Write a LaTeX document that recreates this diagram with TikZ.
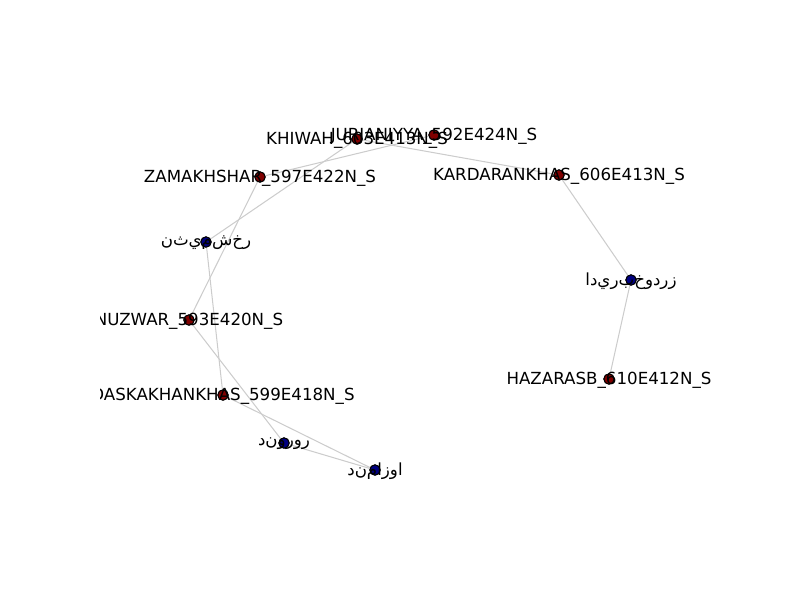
\documentclass[tikz,border=0pt]{standalone}
\usepackage{fontspec}
\setmainfont{DejaVu Sans}
\newfontfamily\arabicfont[Script=Arabic,RawFeature={-init;-medi;-fina;-rlig;-liga}]{DejaVu Sans}
\TeXXeTstate=1
\usepackage{xcolor}
\usepackage{tikz}
\definecolor{sitered}{RGB}{128,0,0}
\definecolor{namenavy}{RGB}{0,0,128}
\definecolor{edgegray}{RGB}{204,204,204}

\begin{document}
\begin{tikzpicture}[x=0.72pt,y=-0.72pt,
  sitept/.style={circle,draw=black,fill=sitered,inner sep=0pt,minimum size=7.4pt,line width=0.7pt},
  namept/.style={circle,draw=black,fill=namenavy,inner sep=0pt,minimum size=7.4pt,line width=0.7pt},
  lbl/.style={font=\fontsize{12}{14}\selectfont,inner sep=0pt,text=black,yshift=-0.7pt},
  edge/.style={edgegray,line width=0.75pt}]
\useasboundingbox(0,0)rectangle(800,600);
\begin{scope}
\clip(100,72)rectangle(720,534);

% points
\node[sitept](khiwah)at(357,139){};
\node[sitept](jurj)at(434,135){};
\node[sitept](zamak)at(260,177){};
\node[sitept](kard)at(559,175){};
\node[namept](rakh)at(206,242){};
\node[namept](zard)at(631,280){};
\node[sitept](nuzwar)at(189,320){};
\node[sitept](dask)at(223,395){};
\node[namept](rorw)at(284,443){};
\node[namept](awza)at(375,470){};
\node[sitept](hazar)at(609,379){};

% edges
\draw[edge](khiwah)--(rakh);
\draw[edge](jurj)--(zamak);
\draw[edge](khiwah)--(kard);
\draw[edge](zamak)--(nuzwar);
\draw[edge](rakh)--(dask);
\draw[edge](nuzwar)--(rorw);
\draw[edge](dask)--(awza);
\draw[edge](rorw)--(awza);
\draw[edge](kard)--(zard);
\draw[edge](zard)--(hazar);

% redraw points over the edges
\foreach\p/\s in{khiwah/sitept,jurj/sitept,zamak/sitept,kard/sitept,rakh/namept,zard/namept,nuzwar/sitept,dask/sitept,rorw/namept,awza/namept,hazar/sitept}
  \node[\s]at(\p){};

% labels
\node[lbl](khiwahT)at(khiwah){KHIWAH\_603E413N\_S};
\node[lbl](jurjT)at(jurj){JURJANIYYA\_592E424N\_S};
\node[lbl](zamakT)at(zamak){ZAMAKHSHAR\_597E422N\_S};
\node[lbl](kardT)at(kard){KARDARANKHAS\_606E413N\_S};
\node[lbl](rakhT)at(rakh){\arabicfont\beginR رخشميثن\endR};
\node[lbl](zardT)at(zard){\arabicfont\beginR زردوخبريدا\endR};
\node[lbl](nuzwarT)at(nuzwar){NUZWAR\_593E420N\_S};
\node[lbl](daskT)at(dask){DASKAKHANKHAS\_599E418N\_S};
\node[lbl](rorwT)at(rorw){\arabicfont\beginR روروند\endR};
\node[lbl](awzaT)at(awza){\arabicfont\beginR اوزامند\endR};
\node[lbl](hazarT)at(hazar){HAZARASB\_610E412N\_S};
\end{scope}
\end{tikzpicture}
\end{document}
